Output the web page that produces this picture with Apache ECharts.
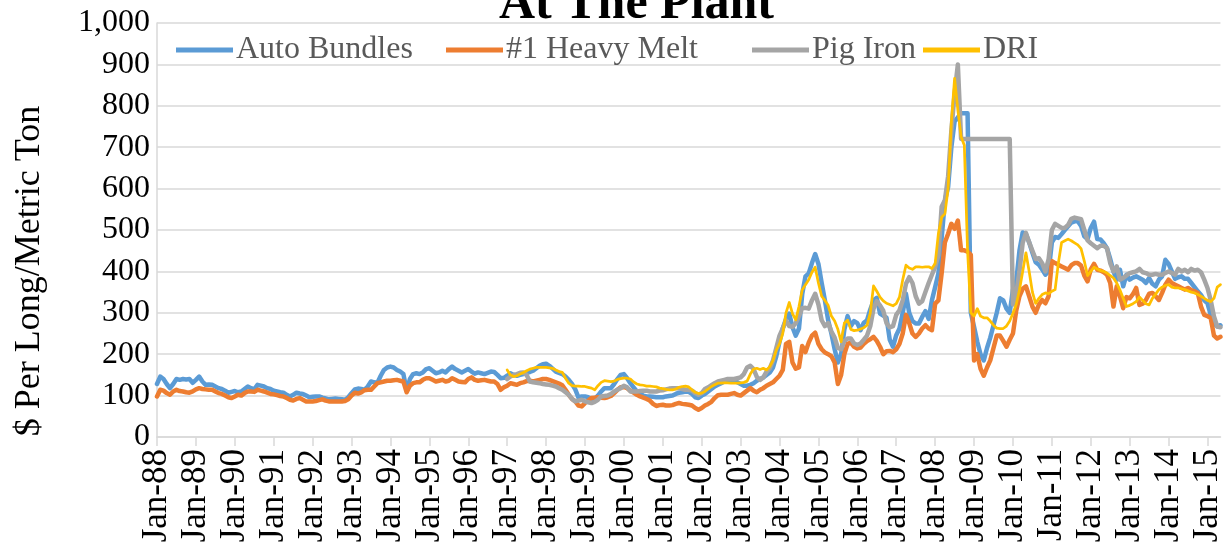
<!DOCTYPE html>
<html>
<head>
<meta charset="utf-8">
<script src="https://cdn.jsdelivr.net/npm/echarts@6/dist/echarts.min.js"></script>
<style>
  html, body { margin: 0; padding: 0; background: #fff; }
  #chart { width: 1225px; height: 546px; }
</style>
</head>
<body>
<div id="chart"></div>
<script>
// monthly prices, Jan-88 .. May-15
var years = ['88','89','90','91','92','93','94','95','96','97','98','99','00','01',
             '02','03','04','05','06','07','08','09','10','11','12','13','14','15'];
var monthNames = ['Jan','Feb','Mar','Apr','May','Jun','Jul','Aug','Sep','Oct','Nov','Dec'];
var lastMonth = 'May-15';
var yTicks = [0, 100, 200, 300, 400, 500, 600, 700, 800, 900, 1000];

var autoBundles = [
  128,146,140,128,118,128,140,138,140,139,140,131,
  138,146,134,126,127,126,122,118,116,112,107,109,
  111,108,110,116,122,118,115,126,124,122,118,116,
  112,110,108,107,102,98,102,107,105,104,100,96,
  97,98,98,95,93,91,92,93,92,91,90,96,
  106,115,117,116,114,122,134,132,131,148,162,168,
  170,168,162,158,152,112,140,152,154,152,156,164,
  166,160,154,156,160,156,164,170,164,160,156,160,
  164,158,153,156,154,152,155,158,157,150,142,143,
  148,154,150,148,150,152,155,157,160,166,172,176,
  177,172,165,158,155,152,146,138,128,115,95,98,
  98,96,93,92,100,110,118,118,118,128,140,150,
  152,142,130,120,110,104,100,98,98,97,96,96,
  96,98,99,100,104,107,108,110,109,104,96,94,
  100,104,110,116,122,126,130,134,136,138,136,132,
  128,124,124,126,130,136,140,144,150,156,168,195,
  230,262,285,298,265,245,262,345,388,395,420,442,
  418,372,330,282,250,212,180,200,260,292,268,280,
  275,258,276,282,308,330,336,298,293,288,235,218,
  246,262,300,346,300,280,274,274,290,304,285,330,
  362,395,480,570,604,700,762,772,782,782,782,300,
  266,230,200,185,215,240,270,300,335,330,310,300,
  356,375,450,494,490,470,445,422,416,405,392,400,
  470,483,481,490,500,509,518,521,521,510,485,478,
  505,520,478,477,468,456,430,400,380,404,364,392,
  380,385,388,384,380,372,384,370,364,380,388,428,
  418,400,382,386,388,382,382,372,362,352,343,330,
  323,295,275,267,270
];

var heavyMelt = [
  98,114,112,106,102,110,114,111,110,108,107,110,
  115,118,116,115,114,114,110,106,104,100,96,94,
  98,102,100,106,110,110,109,114,112,110,107,104,
  103,101,99,98,94,90,88,92,94,90,86,86,
  86,87,89,91,88,86,86,86,86,86,87,91,
  100,107,105,108,113,114,114,122,130,132,134,136,
  136,137,138,136,134,108,124,130,132,132,138,142,
  142,138,134,136,138,134,136,142,138,134,133,132,
  140,144,138,136,137,138,136,134,134,128,114,120,
  124,130,128,126,130,132,135,136,134,136,138,140,
  140,138,135,132,129,125,114,102,92,86,76,74,
  82,88,94,95,96,95,94,96,99,106,114,120,
  121,118,112,107,102,98,95,92,88,80,75,77,
  78,76,76,77,80,82,80,79,78,76,70,66,
  70,76,80,85,94,101,102,102,102,104,106,102,
  100,106,112,118,112,108,114,118,124,128,132,140,
  148,162,225,230,180,165,168,220,205,228,245,252,
  225,212,204,200,195,180,128,150,200,225,228,218,
  214,216,225,232,236,242,232,218,200,207,208,205,
  212,225,250,295,275,250,242,250,262,270,262,258,
  322,330,395,470,491,515,503,523,451,451,448,440,
  185,200,165,148,168,185,215,245,245,232,218,235,
  250,305,340,358,364,340,315,300,320,331,323,340,
  425,420,416,412,408,404,415,420,420,414,390,376,
  405,418,404,402,398,392,372,315,364,340,311,338,
  335,345,360,319,322,331,346,348,340,331,348,368,
  380,372,368,364,360,356,360,355,352,348,315,295,
  292,287,245,238,242
];

// pig iron and DRI start in Jan-97
var seriesStart = 'Jan-97';

var pigIron = [
  140,146,150,152,155,156,150,134,132,131,130,128,
  127,126,124,122,118,114,108,102,92,86,88,90,
  86,84,82,85,90,98,99,100,104,110,114,118,
  124,120,110,110,110,111,112,112,110,110,110,112,
  113,115,117,118,118,118,116,114,114,112,106,102,
  106,116,120,125,130,134,136,138,140,140,140,142,
  144,152,168,172,164,145,138,144,158,166,185,215,
  245,262,282,268,266,275,292,311,312,310,330,346,
  320,282,268,275,255,240,215,212,232,238,238,226,
  222,226,235,245,268,310,328,318,305,275,265,268,
  295,306,330,370,386,372,340,322,328,350,372,392,
  411,440,556,572,630,740,830,900,720,720,720,720,
  720,720,720,720,720,720,720,720,720,720,720,720,
  320,345,400,469,493,470,450,430,432,420,400,430,
  500,515,510,505,505,512,527,530,528,526,500,475,
  468,462,456,462,462,456,420,400,412,380,384,390,
  396,398,400,406,398,396,392,392,394,392,392,396,
  400,396,392,406,400,404,398,406,402,404,398,380,
  360,330,291,267,265
];

var dri = [
  162,150,146,148,152,156,160,164,166,168,168,168,
  168,167,166,162,158,156,142,130,124,123,123,122,
  122,120,118,114,124,132,136,135,134,135,139,141,
  142,142,140,133,128,126,125,123,123,122,121,118,
  117,115,114,114,116,120,122,123,121,114,108,105,
  106,110,116,122,126,130,130,131,131,130,130,130,
  131,132,135,152,164,166,163,166,162,170,185,210,
  225,250,300,325,298,283,315,355,368,380,398,410,
  372,340,330,318,292,280,260,230,275,282,260,257,
  258,261,264,270,300,365,352,338,329,323,320,317,
  322,338,380,415,408,405,411,411,410,411,411,407,
  419,491,531,539,600,760,866,790,725,705,450,300,
  292,310,292,288,288,280,270,263,262,262,268,280,
  299,320,355,400,445,400,350,323,335,344,348,346,
  352,356,420,470,474,478,474,469,464,455,425,390,
  400,410,406,402,400,396,390,384,372,355,335,315,
  318,322,327,338,330,322,319,335,345,356,362,366,
  368,362,360,360,358,356,353,350,348,344,340,335,
  330,327,335,362,368
];

var categories = [];
years.forEach(function (yy) {
  monthNames.forEach(function (mm) {
    if (categories.indexOf(lastMonth) < 0) categories.push(mm + '-' + yy);
  });
});

var startIdx = categories.indexOf(seriesStart);
function shifted(arr) {
  return arr.map(function (v, i) { return [categories[startIdx + i], v]; });
}

var serif = 'Liberation Serif';
var chart = echarts.init(document.getElementById('chart'));

function legendItem(name, left) {
  return {
    data: [name],
    left: left,
    top: 29,
    icon: 'rect',
    itemWidth: 57,
    itemHeight: 5,
    itemGap: 0,
    textStyle: { fontFamily: serif, fontSize: 32, color: '#595959', padding: [0, 0, 0, -2] }
  };
}

var option = {
  animation: false,
  backgroundColor: '#fff',
  title: {
    text: 'At The Plant',
    left: 494,
    top: -25,
    textStyle: { fontFamily: serif, fontSize: 50, fontWeight: 'bold', color: '#000' }
  },
  legend: [
    legendItem('Auto Bundles', 171),
    legendItem('#1 Heavy Melt', 441),
    legendItem('Pig Iron', 747),
    legendItem('DRI', 918)
  ],
  graphic: [{
    type: 'text',
    x: 30,
    y: 271,
    rotation: Math.PI / 2,
    style: {
      text: '$ Per Long/Metric Ton',
      font: '36px "Liberation Serif"',
      fill: '#000',
      align: 'center',
      verticalAlign: 'middle'
    }
  }],
  grid: { left: 157, right: 2, top: 23, bottom: 109, containLabel: false },
  xAxis: {
    type: 'category',
    boundaryGap: false,
    data: categories,
    axisLine: { lineStyle: { color: '#d9d9d9', width: 1.5 } },
    axisTick: { interval: 11, length: 9, lineStyle: { color: '#d9d9d9', width: 1.5 } },
    axisLabel: {
      interval: 11,
      rotate: 90,
      margin: 12,
      fontFamily: serif,
      fontSize: 35,
      color: '#000'
    },
    splitLine: { show: false }
  },
  yAxis: {
    type: 'value',
    min: yTicks[0],
    max: yTicks[yTicks.length - 1],
    interval: 100,
    axisLine: { show: true, lineStyle: { color: '#d9d9d9', width: 1.5 } },
    axisTick: { show: false },
    axisLabel: {
      margin: 7,
      fontFamily: serif,
      fontSize: 32,
      color: '#000',
      formatter: function (v) { return v.toLocaleString('en-US'); }
    },
    splitLine: { lineStyle: { color: '#d9d9d9', width: 1.5 } }
  },
  series: [
    {
      name: 'Auto Bundles', type: 'line', data: autoBundles, showSymbol: false,
      color: '#5b9bd5', lineStyle: { width: 4.5, cap: 'round', join: 'round' }
    },
    {
      name: '#1 Heavy Melt', type: 'line', data: heavyMelt, showSymbol: false,
      color: '#ed7d31', lineStyle: { width: 4.5, cap: 'round', join: 'round' }
    },
    {
      name: 'Pig Iron', type: 'line', data: shifted(pigIron), showSymbol: false,
      color: '#a5a5a5', lineStyle: { width: 4.5, cap: 'round', join: 'round' }
    },
    {
      name: 'DRI', type: 'line', data: shifted(dri), showSymbol: false,
      color: '#ffc000', lineStyle: { width: 2.75, cap: 'round', join: 'round' }
    }
  ]
};

chart.setOption(option);
</script>
</body>
</html>
